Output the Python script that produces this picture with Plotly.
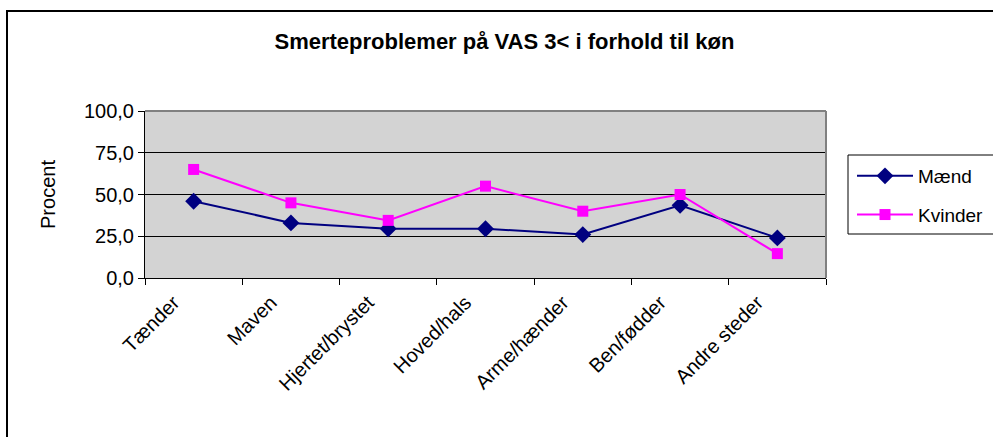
import plotly.graph_objects as go

categories = ["Tænder", "Maven", "Hjertet/brystet", "Hoved/hals", "Arme/hænder", "Ben/fødder", "Andre steder"]
maend = [46.0, 33.0, 29.5, 29.5, 26.0, 43.5, 24.0]
kvinder = [65.0, 45.0, 34.5, 55.0, 40.0, 50.0, 14.6]
y_ticks = [0, 25, 50, 75, 100]
y_ticklabels = ["0,0", "25,0", "50,0", "75,0", "100,0"]

FONT = "Arial, Liberation Sans, sans-serif"
W, H = 993, 437
L, R, T, B = 145, 826, 111, 278
pw, ph = R - L, B - T

def px(x):
    return (x - L) / pw

def py(y):
    return (B - y) / ph

fig = go.Figure()
fig.add_trace(go.Scatter(
    x=categories, y=maend, name="Mænd", mode="lines+markers",
    line=dict(color="#000080", width=2),
    marker=dict(symbol="diamond", size=13, color="#000080"),
    legendgroup="a",
))
fig.add_trace(go.Scatter(
    x=categories, y=kvinder, name="Kvinder", mode="lines+markers",
    line=dict(color="#FF00FF", width=2),
    marker=dict(symbol="square", size=11, color="#FF00FF"),
    legendgroup="b",
))

fig.update_layout(
    width=W, height=H, autosize=False,
    margin=dict(l=L, r=W - R, t=T, b=H - B, pad=0, autoexpand=False),
    paper_bgcolor="white", plot_bgcolor="#d3d3d3",
    font=dict(family=FONT, color="black", size=16),
    title=dict(text="<b>Smerteproblemer på VAS 3< i forhold til køn</b>",
               x=0.508, xanchor="center", y=1 - 41 / H, yanchor="middle",
               font=dict(size=22, family=FONT)),
    showlegend=True,
    legend=dict(x=px(852), xanchor="left", y=py(157), yanchor="top",
                bgcolor="rgba(0,0,0,0)", borderwidth=0,
                font=dict(size=19, family=FONT),
                tracegroupgap=11, traceorder="grouped", itemwidth=56),
    xaxis=dict(type="category", showgrid=False, showline=True, linecolor="black",
               linewidth=1, ticks="outside", tickson="boundaries", ticklen=6,
               tickcolor="black", tickangle=-45, tickfont=dict(size=20, family=FONT),
               ticklabelshift=-20, ticklabelstandoff=4, automargin=False,
               range=[-0.5, len(categories) - 0.5], zeroline=False),
    yaxis=dict(range=[0, 100], tickvals=y_ticks, ticktext=y_ticklabels,
               showgrid=True, gridcolor="black", gridwidth=1, showline=True,
               linecolor="black", linewidth=1, ticks="outside", ticklen=6,
               tickcolor="black", tickfont=dict(size=20, family=FONT), zeroline=False,
               automargin=False,
               title=dict(text="Procent", font=dict(size=20, family=FONT), standoff=22)),
    shapes=[
        dict(type="rect", xref="paper", yref="paper", x0=px(7), x1=px(1002),
             y0=py(441), y1=py(11), line=dict(color="black", width=2), layer="below"),
        dict(type="line", xref="paper", yref="paper", x0=0, x1=1, y0=1, y1=1,
             line=dict(color="#808080", width=2)),
        dict(type="line", xref="paper", yref="paper", x0=1, x1=1, y0=0, y1=1,
             line=dict(color="#808080", width=2)),
        dict(type="rect", xref="paper", yref="paper", x0=px(848), x1=px(1002),
             y0=py(234), y1=py(155), line=dict(color="black", width=1)),
    ],
)

fig.write_html("out.html", config={"displayModeBar": False},
               post_script="document.body.style.margin='0';document.body.style.overflow='hidden';")
